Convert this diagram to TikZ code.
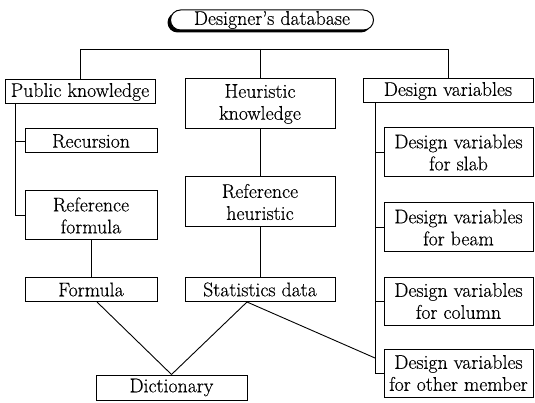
\documentclass[tikz,border=0pt]{standalone}
\usepackage{fontspec}
\setmainfont{Latin Modern Roman}[FakeBold=0.35]
\begin{document}
\begin{tikzpicture}[x=1pt,y=-1pt,
  every node/.style={font=\fontsize{19.8}{22}\selectfont},
  box/.style={draw, line width=1pt, inner sep=0pt, align=center},
  link/.style={line width=0.9pt}]
\useasboundingbox (0,0) rectangle (535,403);

% root with a dark shadow on the lower left
\fill[black, rounded corners=10pt] (167.5,12.5) rectangle (371,32.5);
\node[box, fill=white, rounded corners=10pt, minimum width=203pt, minimum height=20pt] (db) at (272,20) {Designer's database};

% first level
\node[box, minimum width=150pt, minimum height=24pt] (pub) at (80,92) {Public knowledge};
\node[box, minimum width=150pt, minimum height=50pt] (heu) at (260,104) {Heuristic\\knowledge};
\node[box, minimum width=170pt, minimum height=24pt] (dv) at (448,91) {Design variables};

% public knowledge branch
\node[box, minimum width=132pt, minimum height=24pt] (rec) at (91,141) {Recursion};
\node[box, minimum width=132pt, minimum height=49pt] (reff) at (91,215.5) {Reference\\formula};
\node[box, minimum width=132pt, minimum height=24pt] (form) at (91,289.5) {Formula};

% heuristic branch
\node[box, minimum width=150pt, minimum height=50pt] (refh) at (260,202) {Reference\\heuristic};
\node[box, minimum width=150pt, minimum height=24pt] (stat) at (260,289.5) {Statistics data};

\node[box, minimum width=151pt, minimum height=25pt] (dict) at (171.5,387.5) {Dictionary};

% design variables branch
\node[box, minimum width=149pt, minimum height=49pt] (slab) at (458.5,152.5) {Design variables\\for slab};
\node[box, minimum width=149pt, minimum height=49pt] (beam) at (458.5,227.5) {Design variables\\for beam};
\node[box, minimum width=149pt, minimum height=48pt] (col) at (458.5,301) {Design variables\\for column};
\node[box, minimum width=149pt, minimum height=48pt] (oth) at (458.5,373) {Design variables\\for other member};

% top bus
\coordinate (busL) at (80,49);
\coordinate (busM) at (260,49);
\coordinate (busR) at (448,49);
\draw[link] (pub.north) -- (busL) -- (busR) -- (dv.north);
\draw[link] (busM) -- (heu.north);

% left bus
\coordinate (lb) at (15,104);
\draw[link] (lb) |- (rec.west);
\draw[link] (lb) |- (reff.west);
\draw[link] (reff.south) -- (form.north);

% middle chain
\draw[link] (heu.south) -- (refh.north);
\draw[link] (refh.south) -- (stat.north);

% right bus
\coordinate (rb) at (375,103);
\coordinate (rbx) at (375,358);
\draw[link] (rb) |- (slab.west);
\draw[link] (rb) |- (beam.west);
\draw[link] (rb) |- (col.west);
\draw[link] (rb) |- (oth.west);

% lower links
\draw[link] ([xshift=6pt]form.south) -- (dict.north);
\draw[link] ([xshift=-13pt]stat.south) -- (dict.north);
\draw[link] ([xshift=-13pt]stat.south) -- (rbx);
\end{tikzpicture}
\end{document}
